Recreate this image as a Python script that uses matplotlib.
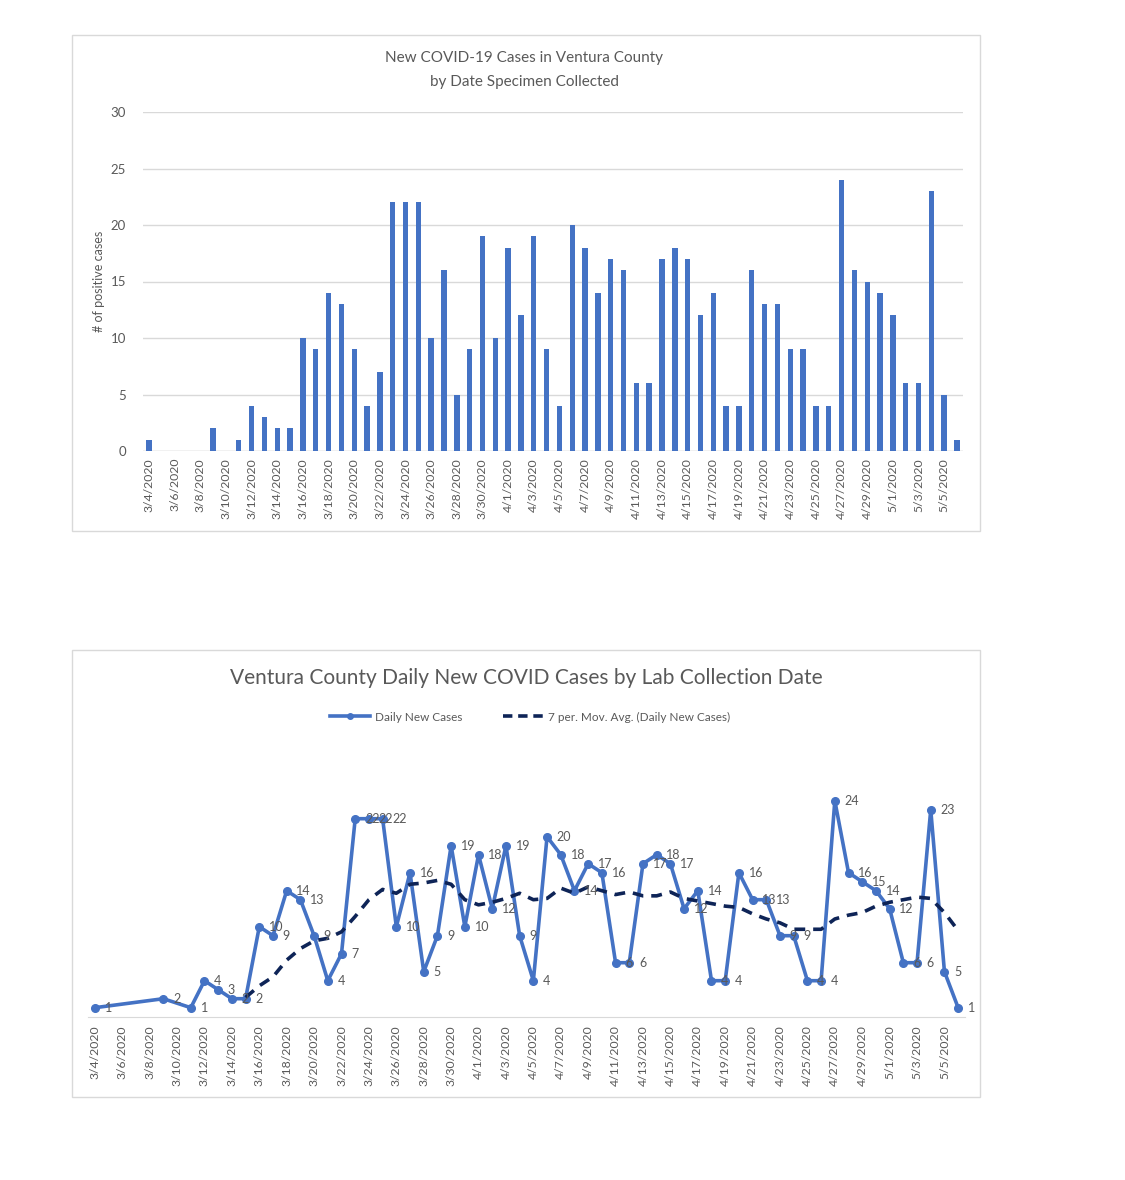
import numpy as np
import pandas as pd
import matplotlib.pyplot as plt
from matplotlib.patches import Rectangle
from matplotlib.lines import Line2D

plt.rcParams['font.family'] = ['Lato', 'DejaVu Sans']

# Daily positive cases by collection date, 3/4/2020 - 5/6/2020
dates = pd.date_range('2020-03-04', '2020-05-06')
date_labels = [f'{d.month}/{d.day}/{d.year}' for d in dates]
cases = [1, 0, 0, 0, 0, 2, 0, 1, 4, 3, 2, 2, 10, 9, 14, 13, 9, 4, 7, 22,
         22, 22, 10, 16, 5, 9, 19, 10,
         18, 12, 19, 9, 4, 20, 18, 14, 17, 16, 6, 6, 17, 18, 17, 12, 14, 4,
         4, 16, 13, 13, 9, 9, 4, 4, 24, 16, 15, 14, 12, 6,
         6, 23, 5, 1]

W, H = 1125, 1180
BLUE = '#4472C4'
NAVY = '#0E2457'
GREY = '#595959'


def box(x0, y0, x1, y1):
    # pixel box (top-left origin) -> figure fraction rect
    return [x0 / W, 1 - y1 / H, (x1 - x0) / W, (y1 - y0) / H]


fig = plt.figure(figsize=[W / 100, H / 100], dpi=100)

# chart frames
for y0, y1 in [(35, 531), (650, 1097)]:
    fig.patches.append(Rectangle((72 / W, 1 - y1 / H), (980 - 72) / W, (y1 - y0) / H,
                                 transform=fig.transFigure, fill=False,
                                 edgecolor='#D9D9D9', linewidth=1))

x = np.arange(len(cases))

# ---- top: bar chart ----
ax1 = fig.add_axes(box(142.6, 112, 963.4, 451))
ax1.bar(x, cases, width=0.42, color=BLUE, zorder=3)
ax1.set_xlim(-0.5, len(cases) - 0.5)
ax1.set_ylim(0, 30)
ax1.set_yticks(range(0, 31, 5))
ax1.grid(axis='y', color='#D9D9D9', linewidth=1, zorder=0)
for s in ax1.spines.values():
    s.set_visible(False)
ax1.axhline(0, color='#D9D9D9', linewidth=1, zorder=2)
ax1.set_xticks(x[::2])
ax1.set_xticklabels(date_labels[::2], rotation=90, fontsize=8.8, color=GREY)
ax1.tick_params(axis='both', length=0, colors=GREY)
ax1.tick_params(axis='y', labelsize=9.5, pad=12)
ax1.tick_params(axis='x', pad=5)
ax1.set_ylabel('# of positive cases', fontsize=9, color=GREY, labelpad=4)
fig.text(524 / W, 1 - 70 / H, 'New COVID-19 Cases in Ventura County\nby Date Specimen Collected',
         ha='center', va='center', fontsize=11, color=GREY, linespacing=1.95)

# ---- bottom: line chart with 7-point moving average ----
s = pd.Series(cases, dtype=float).replace(0, np.nan)
pts = s.dropna()
ma = pts.rolling(7).mean().dropna()

ax2 = fig.add_axes(box(88, 746.7, 965, 1016.7))
ax2.plot(pts.index, pts.values, color=BLUE, linewidth=2.6, marker='o',
         markersize=5.5, zorder=3)
ax2.plot(ma.index, ma.values, color=NAVY, linewidth=2.6, linestyle=(0, (3, 2.2)),
         zorder=4)
for i, v in pts.items():
    ax2.annotate(f'{int(v)}', (i, v), xytext=(7, 0), textcoords='offset points',
                 ha='left', va='center', fontsize=9, color=GREY, zorder=5)
ax2.set_xlim(-0.5, len(cases) - 0.5)
ax2.set_ylim(0, 30)
ax2.set_yticks([])
for k in ['top', 'right', 'left']:
    ax2.spines[k].set_visible(False)
ax2.spines['bottom'].set_color('#D9D9D9')
ax2.set_xticks(x[::2])
ax2.set_xticklabels(date_labels[::2], rotation=90, fontsize=8.8, color=GREY)
ax2.tick_params(axis='x', length=0, pad=6)
fig.text(526 / W, 1 - 678 / H, 'Ventura County Daily New COVID Cases by Lab Collection Date',
         ha='center', va='center', fontsize=15, color=GREY)

handles = [Line2D([], [], color=BLUE, linewidth=2.6, marker='o', markersize=4),
           Line2D([], [], color=NAVY, linewidth=2.6, linestyle=(0, (2.6, 1.6)))]
fig.legend(handles, ['Daily New Cases', '7 per. Mov. Avg. (Daily New Cases)'],
           loc='center', bbox_to_anchor=(530 / W, 1 - 717 / H), ncol=2,
           frameon=False, fontsize=8.5, labelcolor=GREY, handlelength=3.4,
           columnspacing=3.5, handletextpad=0.4)

plt.savefig('out.png', dpi=100)
